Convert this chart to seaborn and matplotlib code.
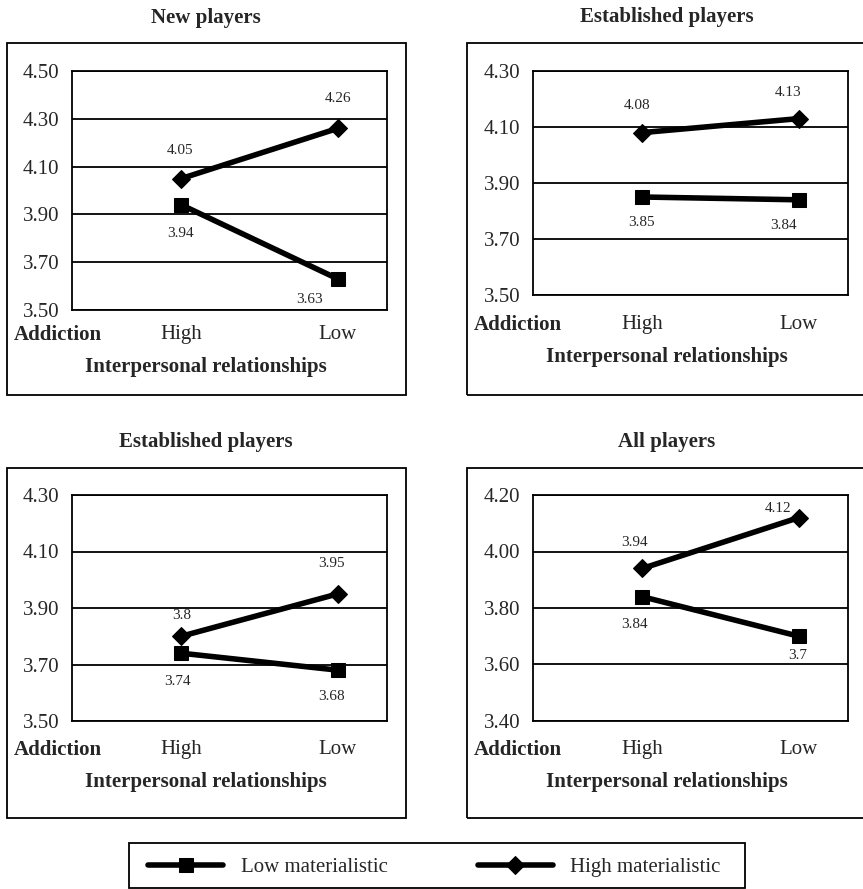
import numpy as np
import pandas as pd
import seaborn as sns
import matplotlib.pyplot as plt
from matplotlib.patches import Rectangle

# === Data ===
relationships = ["High", "Low"]
groups = ["Low materialistic", "High materialistic"]
titles = ["New players", "Established players", "Established players", "All players"]

low_mat = [[3.94, 3.63], [3.85, 3.84], [3.74, 3.68], [3.84, 3.70]]
high_mat = [[4.05, 4.26], [4.08, 4.13], [3.80, 3.95], [3.94, 4.12]]
low_mat_labels = [["3.94", "3.63"], ["3.85", "3.84"], ["3.74", "3.68"], ["3.84", "3.7"]]
high_mat_labels = [["4.05", "4.26"], ["4.08", "4.13"], ["3.8", "3.95"], ["3.94", "4.12"]]
y_ranges = [(3.50, 4.50), (3.50, 4.30), (3.50, 4.30), (3.40, 4.20)]

# === Layout (pixels) ===
W, H = 863, 889
# axes: left, top, right, bottom ; frame box: left, top, right, bottom
axes_px = [(72, 71, 387, 310), (533, 71, 848, 295), (72, 495, 387, 721), (533, 495, 848, 721)]
box_px = [(7, 43, 406, 395), (467, 43, 868, 395), (7, 468, 406, 818), (467, 468, 868, 818)]
title_px = [(206, 18), (667, 17), (206, 442), (667, 442)]
tick_y = [335, 325, 750, 750]
xlab_y = [367, 357, 782, 782]
# label offsets (dx, dy) in pixels for each point
low_off = [[(-1, -29), (-28, -21)], [(-1, -26), (-15, -26)], [(-4, -28), (-6, -26)], [(-8, -28), (-1, -19)]]
high_off = [[(-1, 28), (0, 30)], [(-5, 27), (-11, 26)], [(0, 21), (-6, 30)], [(-8, 26), (-21, 9)]]

sns.set_theme(style="white")
plt.rcParams['font.family'] = ['Liberation Serif', 'DejaVu Serif']

fig = plt.figure(figsize=(W / 100, H / 100), dpi=100)


def fx(x):
    return x / W


def fy(y):
    return 1 - y / H


handles = None
for i in range(4):
    l, t, r, b = axes_px[i]
    ax = fig.add_axes([fx(l), fy(b), (r - l) / W, (b - t) / H])
    df = pd.DataFrame({
        "rel": relationships * 2,
        "score": low_mat[i] + high_mat[i],
        "group": [groups[0]] * 2 + [groups[1]] * 2,
    })
    sns.lineplot(data=df, x="rel", y="score", hue="group", style="group",
                 hue_order=groups, style_order=groups,
                 palette=["black", "black"], markers={groups[0]: "s", groups[1]: "D"},
                 dashes=False, lw=4, markersize=9.5, markeredgecolor="black",
                 legend=(i == 0), ax=ax, sort=False)
    if i == 0:
        handles, labels = ax.get_legend_handles_labels()
        ax.get_legend().remove()

    for vals, labs, offs in [(low_mat[i], low_mat_labels[i], low_off[i]),
                             (high_mat[i], high_mat_labels[i], high_off[i])]:
        for j, (v, s) in enumerate(zip(vals, labs)):
            ax.annotate(s, (j, v), xytext=offs[j], textcoords="offset pixels",
                        ha="center", va="center", fontsize=11)

    lo, hi = y_ranges[i]
    ax.set_ylim(lo, hi)
    ax.set_yticks(np.round(np.arange(lo, hi + 0.001, 0.2), 2))
    ax.set_yticklabels([f"{v:.2f}" for v in ax.get_yticks()], fontsize=15)
    ax.set_xlim(-0.698, 1.314)
    ax.set_xticks([0, 1])
    ax.set_xticklabels(relationships, fontsize=15)
    ax.tick_params(axis="y", length=0, pad=9)
    ax.tick_params(axis="x", length=0, pad=(tick_y[i] - b) * 0.72 - 7)
    ax.yaxis.grid(True, color="black", lw=1.3)
    ax.xaxis.grid(False)
    ax.set_xlabel("")
    ax.set_ylabel("")
    for sp in ax.spines.values():
        sp.set_color("black")
        sp.set_linewidth(1.3)

    bl, bt, br, bb = box_px[i]
    fig.patches.append(Rectangle((fx(bl), fy(bb)), (br - bl) / W, (bb - bt) / H,
                                 transform=fig.transFigure, fill=False,
                                 edgecolor="black", lw=1.3))
    fig.text(fx(title_px[i][0]), fy(title_px[i][1]), titles[i], ha="center", va="center",
             fontsize=15, fontweight="bold")
    fig.text(fx(bl + 7), fy(tick_y[i]), "Addiction", ha="left", va="center",
             fontsize=15, fontweight="bold")
    fig.text(fx(206 if i % 2 == 0 else 667), fy(xlab_y[i]),
             "Interpersonal relationships", ha="center", va="center",
             fontsize=15, fontweight="bold")

# === Legend ===
fig.patches.append(Rectangle((fx(129), fy(888)), (745 - 129) / W, (888 - 843) / H,
                             transform=fig.transFigure, fill=False,
                             edgecolor="black", lw=1.3))
fig.legend(handles, labels, loc="center left", bbox_to_anchor=(fx(138), fy(867)),
           ncol=2, frameon=False, fontsize=15, handlelength=3.6,
           handletextpad=0.85, columnspacing=4.3, borderpad=0)

fig.savefig("out.png", dpi=100)
